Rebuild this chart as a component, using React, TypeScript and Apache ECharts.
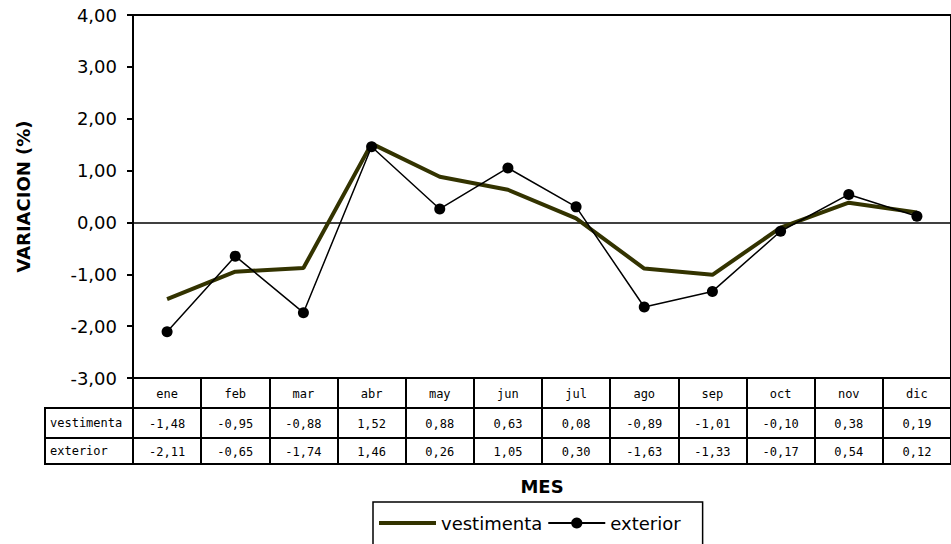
import React, { useEffect, useRef } from "react";
import * as echarts from "echarts";

const months = ["ene", "feb", "mar", "abr", "may", "jun", "jul", "ago", "sep", "oct", "nov", "dic"];
const vestimenta = [-1.48, -0.95, -0.88, 1.52, 0.88, 0.63, 0.08, -0.89, -1.01, -0.1, 0.38, 0.19];
const exterior = [-2.11, -0.65, -1.74, 1.46, 0.26, 1.05, 0.3, -1.63, -1.33, -0.17, 0.54, 0.12];
const seriesNames = ["vestimenta", "exterior"];
const yMin = -3;
const yMax = 4;
const yStep = 1;

const fmt = (v: number) => v.toFixed(2).replace(".", ",");

const SANS = "DejaVu Sans, Arial, sans-serif";
const MONO = "DejaVu Sans Mono, monospace";
const BLACK = "#000";
const OLIVE = "#333300";
const CELL_FONT = 12;

export default function App() {
  const ref = useRef<HTMLDivElement>(null);

  useEffect(() => {
    if (!ref.current) return;
    const chart = echarts.init(ref.current, undefined, { renderer: "svg" });

    const lineStyle = { color: BLACK, width: 2 };
    const cellName = (text: string, lh: number) => ({
      name: text,
      nameLocation: "start",
      nameGap: 88,
      nameTruncate: { maxWidth: 83 },
      nameTextStyle: {
        fontFamily: MONO,
        fontSize: CELL_FONT,
        color: BLACK,
        align: "left",
        verticalAlign: "top",
        lineHeight: lh,
        width: 83,
        padding: [0, 0, 0, 5],
        borderColor: BLACK,
        borderWidth: 2,
      },
    });

    const tableAxis = (offset: number, tickLen: number, margin: number, fmtFn: any, extra: any) => ({
      type: "category",
      data: months,
      position: "bottom",
      offset,
      boundaryGap: true,
      axisLine: { show: true, onZero: false, lineStyle },
      axisTick: { show: tickLen > 0, length: tickLen, interval: 0, lineStyle },
      axisLabel: {
        show: fmtFn !== null,
        interval: 0,
        margin,
        fontFamily: MONO,
        fontSize: CELL_FONT,
        color: BLACK,
        ...(fmtFn ? { formatter: fmtFn } : {}),
      },
      ...extra,
    });

    const option: any = {
      animation: false,
      backgroundColor: "#fff",
      grid: {
        left: 133,
        top: 15,
        width: 829,
        height: 363,
        show: true,
        borderColor: BLACK,
        borderWidth: 2,
        backgroundColor: "transparent",
        containLabel: false,
      },
      legend: {
        data: [
          { name: seriesNames[0], icon: "path://M0,0 L57,0 L57,4 L0,4 Z", itemStyle: { color: OLIVE } },
          { name: seriesNames[1] },
        ],
        left: 373,
        top: 502,
        orient: "horizontal",
        itemWidth: 57,
        itemHeight: 14,
        itemGap: 5,
        padding: [12, 22, 40, 6],
        borderColor: BLACK,
        borderWidth: 1.5,
        textStyle: { fontFamily: SANS, fontSize: 18, color: BLACK },
      },
      yAxis: {
        type: "value",
        min: yMin,
        max: yMax,
        interval: yStep,
        name: "VARIACION (%)",
        nameLocation: "middle",
        nameRotate: 90,
        nameGap: 101,
        nameTextStyle: { fontFamily: SANS, fontSize: 18, fontWeight: "bold", color: BLACK },
        axisLine: { show: true, onZero: false, lineStyle },
        axisTick: { show: true, length: 6, lineStyle },
        splitLine: { show: false },
        axisLabel: {
          margin: 16,
          fontFamily: SANS,
          fontSize: 18,
          color: BLACK,
          formatter: (v: number) => fmt(v),
        },
      },
      xAxis: [
        tableAxis(0, 30, 10, undefined, {}),
        tableAxis(30, 30, 10, (_v: string, i: number) => fmt(vestimenta[i]), cellName(seriesNames[0], 30)),
        tableAxis(60, 26, 8, (_v: string, i: number) => fmt(exterior[i]), cellName(seriesNames[1], 26)),
        tableAxis(86, 0, 0, null, {
          name: "MES",
          nameLocation: "middle",
          nameGap: 13,
          nameTextStyle: { fontFamily: SANS, fontSize: 18, fontWeight: "bold", color: BLACK },
        }),
      ],
      series: [
        {
          name: seriesNames[0],
          type: "line",
          data: vestimenta,
          xAxisIndex: 0,
          symbol: "none",
          lineStyle: { color: OLIVE, width: 4 },
          itemStyle: { color: OLIVE },
          z: 3,
          markLine: {
            silent: true,
            symbol: ["none", "none"],
            label: { show: false },
            lineStyle: { color: BLACK, width: 1.5, type: "solid" },
            data: [{ yAxis: 0 }],
            z: 1,
          },
        },
        {
          name: seriesNames[1],
          type: "line",
          data: exterior,
          xAxisIndex: 0,
          symbol: "circle",
          symbolSize: 11,
          showAllSymbol: true,
          lineStyle: { color: BLACK, width: 1.5 },
          itemStyle: { color: BLACK },
          z: 4,
        },
      ],
    };

    chart.setOption(option);
    return () => chart.dispose();
  }, []);

  return (
    <div
      ref={ref}
      style={{ position: "fixed", left: 0, top: 0, width: 951, height: 544, background: "#fff" }}
    />
  );
}
